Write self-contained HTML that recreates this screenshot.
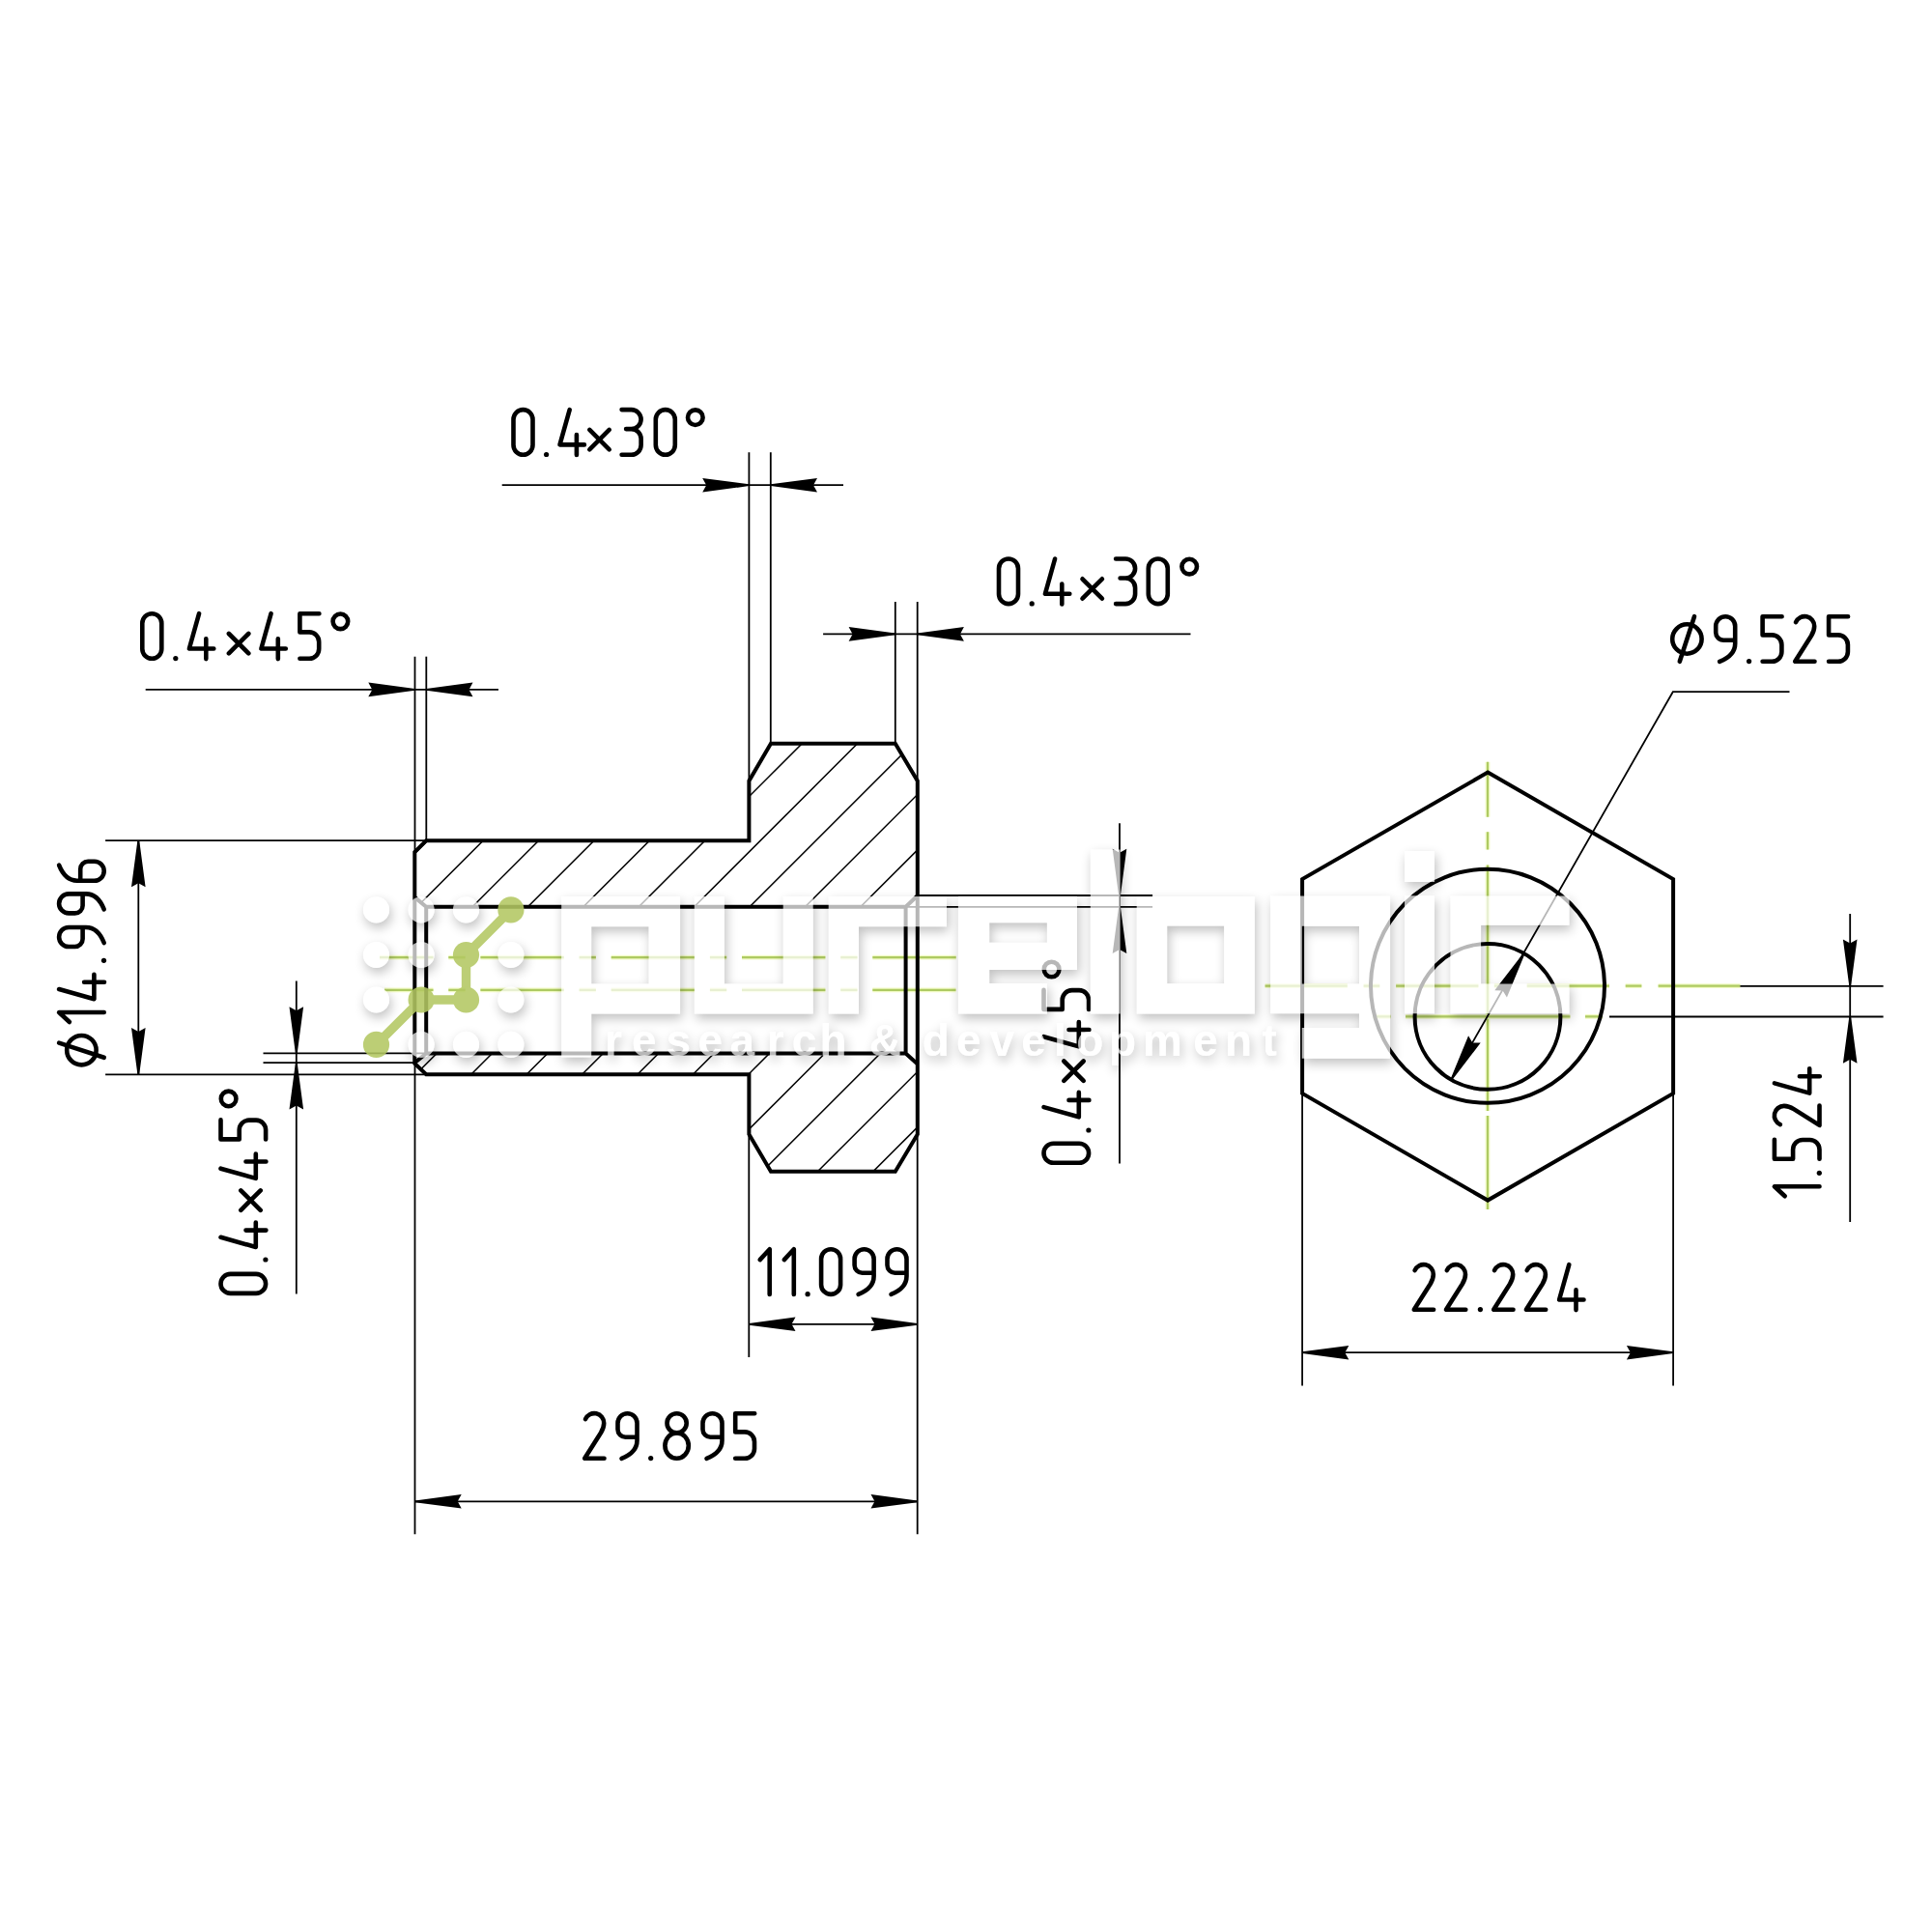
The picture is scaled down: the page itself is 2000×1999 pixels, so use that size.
<!DOCTYPE html>
<html><head><meta charset="utf-8"><title>drawing</title>
<style>html,body{margin:0;padding:0;background:#fff}body{width:2000px;height:1999px;overflow:hidden;font-family:"Liberation Sans",sans-serif}svg{display:block}.n{stroke:#000;stroke-width:1.8;fill:none}.k{stroke:#000;stroke-width:4.0;fill:none;stroke-linejoin:miter;stroke-linecap:butt}.t{stroke:#000;stroke-width:4.6;fill:none;stroke-linecap:round;stroke-linejoin:round}.g{stroke:#aeca62;stroke-width:2.2;fill:none}.gh{stroke:#f1fac4;stroke-width:4.8;fill:none}.h{stroke:#000;stroke-width:1.5;fill:none}</style></head><body>
<svg width="2000" height="1999" viewBox="0 0 2000 1999">
<rect width="2000" height="1999" fill="#fff"/>
<defs>
<g id="g48"><path d="M0,10 A10,10 0 0 1 20,10 V36.6 A10,10 0 0 1 0,36.6 Z"/></g>
<g id="g49"><path d="M0,10.8 L10,0 V46.6"/></g>
<g id="g50"><path d="M0.8,6 A10,10 0 0 1 20,10 C20,14.5 18.6,17 16.8,20 L0,46.6 H20.3"/></g>
<g id="g51"><path d="M0,0 H10 A10,10 0 0 1 10,20 H4.5 M10,20 A10,10 0 0 1 20,30 V36.6 A10,10 0 0 1 10,46.6 H0"/></g>
<g id="g52"><path d="M10.2,0 L0,36.3 H25.4 M17.4,26 V46.9"/></g>
<g id="g53"><path d="M20,0 H0 V19.2 H9.8 A10,10 0 0 1 19.8,29.2 V36.6 A10,10 0 0 1 9.8,46.6 H0"/></g>
<g id="g57"><path d="M20,24.5 H8 A8,8 0 0 1 0,16.5 V10 A10,10 0 0 1 20,10 V28 C20,38 13,43 4,46.6"/></g>
<g id="g54"><g transform="rotate(180 10 23.3)"><path d="M20,24.5 H8 A8,8 0 0 1 0,16.5 V10 A10,10 0 0 1 20,10 V28 C20,38 13,43 4,46.6"/></g></g>
<g id="g56"><circle cx="12.2" cy="10.1" r="10.1"/><ellipse cx="12.2" cy="33.4" rx="12.2" ry="13.2"/></g>
<g id="g46"><circle cx="0" cy="46.4" r="2.6" fill="#000" stroke="none"/></g>
<g id="g120"><path d="M-10.2,20.8 L10.2,41.2 M10.2,20.8 L-10.2,41.2"/></g>
<g id="g100"><circle cx="0" cy="8.1" r="7.8"/></g>
<g id="g79"><circle cx="15.2" cy="23.3" r="15.2"/><path d="M22.8,0 L7.6,46.6"/></g>
<path id="ah" d="M0,-0.9 L48.2,-7.3 L44.2,0 L48.2,7.3 L0,0.9 Z"/>
</defs>
<clipPath id="hc"><path clip-rule="evenodd" d="M441.2,870.2 L775.4,870.2 L775.4,808.4 L798.0,769.8 L926.8,769.8 L949.8,808.4 L949.8,1174.2 L926.8,1212.8 L798.0,1212.8 L775.4,1174.2 L775.4,1112.3 L441.2,1112.3 L429.3,1101.0 L429.3,882.0 Z M429.3,928.9 L441.2,938.8 L937.6,938.8 L949.8,927.2 L949.8,1101.6 L937.6,1090.5 L441.2,1090.5 L429.3,1100.2 Z"/></clipPath>
<g clip-path="url(#hc)" class="h">
<path d="M96.40000000000009,700 L-503.5999999999999,1300"/>
<path d="M153.80000000000007,700 L-446.19999999999993,1300"/>
<path d="M211.20000000000005,700 L-388.79999999999995,1300"/>
<path d="M268.6,700 L-331.4,1300"/>
<path d="M326.0,700 L-274.0,1300"/>
<path d="M383.4000000000001,700 L-216.5999999999999,1300"/>
<path d="M440.8000000000002,700 L-159.19999999999982,1300"/>
<path d="M498.2000000000003,700 L-101.79999999999973,1300"/>
<path d="M555.6000000000004,700 L-44.399999999999636,1300"/>
<path d="M613.0000000000005,700 L13.000000000000455,1300"/>
<path d="M670.4000000000005,700 L70.40000000000055,1300"/>
<path d="M727.8000000000006,700 L127.80000000000064,1300"/>
<path d="M785.2000000000007,700 L185.20000000000073,1300"/>
<path d="M842.6000000000008,700 L242.60000000000082,1300"/>
<path d="M900.0000000000009,700 L300.0000000000009,1300"/>
<path d="M957.400000000001,700 L357.400000000001,1300"/>
<path d="M1014.8000000000011,700 L414.8000000000011,1300"/>
<path d="M1072.2000000000012,700 L472.2000000000012,1300"/>
<path d="M1129.6000000000013,700 L529.6000000000013,1300"/>
<path d="M1187.0000000000014,700 L587.0000000000014,1300"/>
<path d="M1244.4000000000015,700 L644.4000000000015,1300"/>
<path d="M1301.8000000000015,700 L701.8000000000015,1300"/>
<path d="M1359.2000000000016,700 L759.2000000000016,1300"/>
<path d="M1416.6000000000017,700 L816.6000000000017,1300"/>
<path d="M1474.0000000000018,700 L874.0000000000018,1300"/>
<path d="M1531.400000000002,700 L931.4000000000019,1300"/>
<path d="M1588.800000000002,700 L988.800000000002,1300"/>
</g>
<path class="gh" d="M362.1,991.2 H990.6" stroke-dasharray="86.4 15.8 17.3 15.8" clip-path="url(#cl1)"/>
<path class="g" d="M362.1,991.2 H990.6" stroke-dasharray="86.4 15.8 17.3 15.8" clip-path="url(#cl1)"/>
<clipPath id="cl1"><rect x="393" y="900" width="700" height="200"/></clipPath>
<path class="gh" d="M362.1,1024.8 H989.5" stroke-dasharray="86.4 15.8 17.3 15.8" clip-path="url(#cl2)"/>
<path class="g" d="M362.1,1024.8 H989.5" stroke-dasharray="86.4 15.8 17.3 15.8" clip-path="url(#cl2)"/>
<clipPath id="cl2"><rect x="398" y="900" width="700" height="200"/></clipPath>
<path class="k" d="M441.2,870.2 L775.4,870.2 L775.4,808.4 L798.0,769.8 L926.8,769.8 L949.8,808.4 L949.8,1174.2 L926.8,1212.8 L798.0,1212.8 L775.4,1174.2 L775.4,1112.3 L441.2,1112.3 L429.3,1101.0 L429.3,882.0 Z"/>
<path class="k" d="M429.3,928.9 L441.2,938.8 H937.6 L949.8,927.2 M429.3,1100.2 L441.2,1090.5 H937.6 L949.8,1101.6 M441.2,938.8 V1090.5 M937.6,938.8 V1090.5"/>
<path class="n" d="M150.7,713.9 L516,713.9" />
<path class="n" d="M429.5,679.7 L429.5,1588.2" />
<path class="n" d="M441.3,679.7 L441.3,870" />
<use href="#ah" transform="translate(429.5,713.9) rotate(180)"/>
<use href="#ah" transform="translate(441.3,713.9) rotate(0)"/>
<path class="n" d="M519.7,502.2 L873,502.2" />
<path class="n" d="M775.4,468.3 L775.4,808" />
<path class="n" d="M797.8,468.3 L797.8,770" />
<use href="#ah" transform="translate(775.4,502.2) rotate(180)"/>
<use href="#ah" transform="translate(797.8,502.2) rotate(0)"/>
<path class="n" d="M852.1,656.4 L1232.5,656.4" />
<path class="n" d="M926.8,623 L926.8,770" />
<path class="n" d="M949.7,623 L949.7,1588.2" />
<use href="#ah" transform="translate(926.8,656.4) rotate(180)"/>
<use href="#ah" transform="translate(949.7,656.4) rotate(0)"/>
<path class="n" d="M109.1,870.1 L441,870.1" />
<path class="n" d="M109.1,1112.3 L441,1112.3" />
<path class="n" d="M143.3,870.1 L143.3,1112.3" />
<use href="#ah" transform="translate(143.3,870.1) rotate(90)"/>
<use href="#ah" transform="translate(143.3,1112.3) rotate(-90)"/>
<path class="n" d="M272.5,1090.4 L441,1090.4" />
<path class="n" d="M272.5,1100.2 L430,1100.2" />
<path class="n" d="M306.8,1015.5 L306.8,1339.6" />
<use href="#ah" transform="translate(306.8,1090.4) rotate(-90)"/>
<use href="#ah" transform="translate(306.8,1100.2) rotate(90)"/>
<path class="n" d="M949.8,927.0 L1193.1,927.0" />
<path class="n" d="M937.6,938.8 L1193.1,938.8" />
<path class="n" d="M1159.0,852.3 L1159.0,1204.5" />
<use href="#ah" transform="translate(1159.0,926.9) rotate(-90)"/>
<use href="#ah" transform="translate(1159.0,938.9) rotate(90)"/>
<path class="n" d="M775.3,1112 L775.3,1405" />
<path class="n" d="M775.3,1370.8 L949.7,1370.8" />
<use href="#ah" transform="translate(775.3,1370.8) rotate(0)"/>
<use href="#ah" transform="translate(949.7,1370.8) rotate(180)"/>
<path class="n" d="M429.5,1554.3 L949.7,1554.3" />
<use href="#ah" transform="translate(429.5,1554.3) rotate(0)"/>
<use href="#ah" transform="translate(949.7,1554.3) rotate(180)"/>
<path class="gh" d="M1540,788.7 V845.8 M1540,861.2 V879.4 M1540,895.5 V1150 M1540,1155 V1252" />
<path class="g" d="M1540,788.7 V845.8 M1540,861.2 V879.4 M1540,895.5 V1150 M1540,1155 V1252" />
<path class="gh" d="M1309.6,1020.7 H1394.8 M1411.6,1020.7 H1428.3 M1445.1,1020.7 H1530.4 M1546.8,1020.7 H1564 M1580.7,1020.7 H1665.9 M1682.7,1020.7 H1699.4 M1716.6,1020.7 H1801.5" />
<path class="g" d="M1309.6,1020.7 H1394.8 M1411.6,1020.7 H1428.3 M1445.1,1020.7 H1530.4 M1546.8,1020.7 H1564 M1580.7,1020.7 H1665.9 M1682.7,1020.7 H1699.4 M1716.6,1020.7 H1801.5" />
<path class="gh" d="M1421.4,1052.4 H1439.5 M1455,1052.4 H1625.4 M1641,1052.4 H1659" />
<path class="g" d="M1421.4,1052.4 H1439.5 M1455,1052.4 H1625.4 M1641,1052.4 H1659" />
<path class="k" d="M1540.1,799.6 L1732.1,910.1 L1732.1,1131.9 L1540.1,1242.6 L1348.1,1131.9 L1348.1,910.1 Z"/>
<circle class="k" cx="1540.0" cy="1020.8" r="121"/>
<circle class="k" cx="1540.0" cy="1052.4" r="75.4"/>
<path class="n" d="M1348.1,1132 L1348.1,1434.4" />
<path class="n" d="M1732.1,1132 L1732.1,1434.4" />
<path class="n" d="M1348.1,1400.2 L1732.1,1400.2" />
<use href="#ah" transform="translate(1348.1,1400.2) rotate(0)"/>
<use href="#ah" transform="translate(1732.1,1400.2) rotate(180)"/>
<path class="n" d="M1801.4,1020.8 L1949.6,1020.8" />
<path class="n" d="M1666,1052.5 L1949.6,1052.5" />
<path class="n" d="M1915.2,946 L1915.2,1265.1" />
<use href="#ah" transform="translate(1915.2,1020.8) rotate(-90)"/>
<use href="#ah" transform="translate(1915.2,1052.5) rotate(90)"/>
<path class="n" d="M1502.3,1117.7 L1731.8,716.2 H1852.5"/>
<use href="#ah" transform="translate(1502.3,1117.7) rotate(-60)"/>
<use href="#ah" transform="translate(1577.7,987.1) rotate(120)"/>
<g class="t" transform="translate(0,635.2)">
<use href="#g48" x="147.3"/>
<use href="#g46" x="181.8"/>
<use href="#g52" x="195.9"/>
<use href="#g120" x="247.1"/>
<use href="#g52" x="270.4"/>
<use href="#g53" x="310.4"/>
<use href="#g100" x="352.4"/>
</g>
<g class="t" transform="translate(0,424.1)">
<use href="#g48" x="531.5"/>
<use href="#g46" x="565.6"/>
<use href="#g52" x="579.5"/>
<use href="#g120" x="620.5"/>
<use href="#g51" x="643.6"/>
<use href="#g48" x="678.8"/>
<use href="#g100" x="719.8"/>
</g>
<g class="t" transform="translate(0,578.5)">
<use href="#g48" x="1034.0"/>
<use href="#g46" x="1068.2"/>
<use href="#g52" x="1081.9"/>
<use href="#g120" x="1130.7"/>
<use href="#g51" x="1155.1"/>
<use href="#g48" x="1188.8"/>
<use href="#g100" x="1231.2"/>
</g>
<g class="t" transform="translate(0,638.2)">
<use href="#g79" x="1731.2"/>
<use href="#g57" x="1776.2"/>
<use href="#g46" x="1810.6"/>
<use href="#g53" x="1824.6"/>
<use href="#g50" x="1858.2"/>
<use href="#g53" x="1893.1"/>
</g>
<g class="t" transform="translate(0,1293.3)">
<use href="#g49" x="786.7"/>
<use href="#g49" x="811.8"/>
<use href="#g46" x="836.1"/>
<use href="#g48" x="850.1"/>
<use href="#g57" x="884.6"/>
<use href="#g57" x="918.5"/>
</g>
<g class="t" transform="translate(0,1463.2)">
<use href="#g50" x="605.2"/>
<use href="#g57" x="639.5"/>
<use href="#g46" x="673.7"/>
<use href="#g56" x="688.4"/>
<use href="#g57" x="727.5"/>
<use href="#g53" x="761.2"/>
</g>
<g class="t" transform="translate(0,1309.2)">
<use href="#g50" x="1463.8"/>
<use href="#g50" x="1497.0"/>
<use href="#g46" x="1532.4"/>
<use href="#g50" x="1546.2"/>
<use href="#g50" x="1579.9"/>
<use href="#g52" x="1614.1"/>
</g>
<g class="t" transform="translate(61.1,0) rotate(-90)">
<use href="#g79" x="-1102.4"/>
<use href="#g49" x="-1058.0"/>
<use href="#g52" x="-1034.2"/>
<use href="#g46" x="-994.3"/>
<use href="#g57" x="-980.0"/>
<use href="#g57" x="-945.4"/>
<use href="#g54" x="-911.7"/>
</g>
<g class="t" transform="translate(228.5,0) rotate(-90)">
<use href="#g48" x="-1338.9"/>
<use href="#g46" x="-1304.0"/>
<use href="#g52" x="-1291.0"/>
<use href="#g120" x="-1242.6"/>
<use href="#g52" x="-1219.9"/>
<use href="#g53" x="-1179.4"/>
<use href="#g100" x="-1137.4"/>
</g>
<g class="t" transform="translate(1080.5,0) rotate(-90)">
<use href="#g48" x="-1203.8"/>
<use href="#g46" x="-1170.0"/>
<use href="#g52" x="-1156.3"/>
<use href="#g120" x="-1108.7"/>
<use href="#g52" x="-1083.4"/>
<use href="#g53" x="-1044.9"/>
<use href="#g100" x="-1003.5"/>
</g>
<g class="t" transform="translate(1836.9,0) rotate(-90)">
<use href="#g49" x="-1238.2"/>
<use href="#g46" x="-1214.3"/>
<use href="#g53" x="-1199.8"/>
<use href="#g50" x="-1164.9"/>
<use href="#g52" x="-1131.6"/>
</g>
<filter id="ds" x="-5%" y="-15%" width="110%" height="135%" color-interpolation-filters="sRGB"><feGaussianBlur in="SourceAlpha" stdDeviation="6"/><feOffset dx="2" dy="5" result="o"/><feComposite in="o" in2="SourceAlpha" operator="out"/><feComponentTransfer result="sh"><feFuncA type="linear" slope="0.25"/></feComponentTransfer><feComponentTransfer in="SourceGraphic" result="w"><feFuncA type="linear" slope="0.72"/></feComponentTransfer><feMerge><feMergeNode in="sh"/><feMergeNode in="w"/></feMerge></filter>
<g filter="url(#ds)" fill="#fff">
<circle cx="389.5" cy="941.9" r="13.6"/>
<circle cx="389.5" cy="988.5" r="13.6"/>
<circle cx="389.5" cy="1035.0" r="13.6"/>
<circle cx="436.1" cy="941.9" r="13.6"/>
<circle cx="436.1" cy="988.5" r="13.6"/>
<circle cx="436.1" cy="1081.4" r="13.6"/>
<circle cx="482.5" cy="941.9" r="13.6"/>
<circle cx="482.5" cy="1081.4" r="13.6"/>
<circle cx="528.9" cy="988.5" r="13.6"/>
<circle cx="528.9" cy="1035.0" r="13.6"/>
<circle cx="528.9" cy="1081.4" r="13.6"/>
<path fill-rule="evenodd" d="M581.2,928 H704.1 V1049.5 H612.2 V1094.6 H581.2 Z M612.2,959.3 H671.6 V1018.4 H612.2 Z M718.8,928 H749.9 V1018.4 H810.7 V928 H841.7 V1049.5 H718.8 Z M857.7,928 H980 V959.3 H889 V1049.5 H857.7 Z M991.9,927.8 H1115 V1003.9 H1024.2 V1017.9 H1083.9 V1049.5 H991.9 Z M1024.2,955.2 H1083.9 V975.8 H1024.2 Z M1128.8,879.6 H1159.6 V1049.5 H1128.8 Z M1176.7,928 H1298.8 V1049.4 H1176.7 Z M1208.2,958.6 H1267.2 V1018.3 H1208.2 Z M1315.2,927.5 H1439.1 V1095.7 H1347.8 V1064 H1407 V1049.2 H1315.2 Z M1347.8,958.8 H1407 V1018.4 H1347.8 Z M1454,880.9 H1485 V913.1 H1454 Z M1454,927.3 H1485 V1049.2 H1454 Z M1501.5,927.5 H1624.5 V957.8 H1533.1 V1018.4 H1624.5 V1049.2 H1501.5 Z"/>
<g font-family="Liberation Sans, sans-serif" font-size="46" font-weight="bold">
<text y="1092.8" x="626 654.1 689.6 722.4 755.5 793.7 819.7 848.6">research</text>
<text y="1092.8" x="899.7">&amp;</text>
<text y="1092.8" x="954.8 990 1024.4 1057.2 1091 1114.2 1148 1183 1235.2 1268 1306.5">development</text>
</g>
</g>
<g opacity="0.88" fill="#b3c862" stroke="#b3c862" stroke-width="9.4" stroke-linecap="round">
<path fill="none" d="M528.9,941.9 L482.5,988.5 L482.5,1035.0 L436.1,1035.0 L389.5,1081.4"/>
<circle cx="528.9" cy="941.9" r="13.6" stroke="none"/>
<circle cx="482.5" cy="988.5" r="13.6" stroke="none"/>
<circle cx="482.5" cy="1035.0" r="13.6" stroke="none"/>
<circle cx="436.1" cy="1035.0" r="13.6" stroke="none"/>
<circle cx="389.5" cy="1081.4" r="13.6" stroke="none"/>
</g>
</svg></body></html>
